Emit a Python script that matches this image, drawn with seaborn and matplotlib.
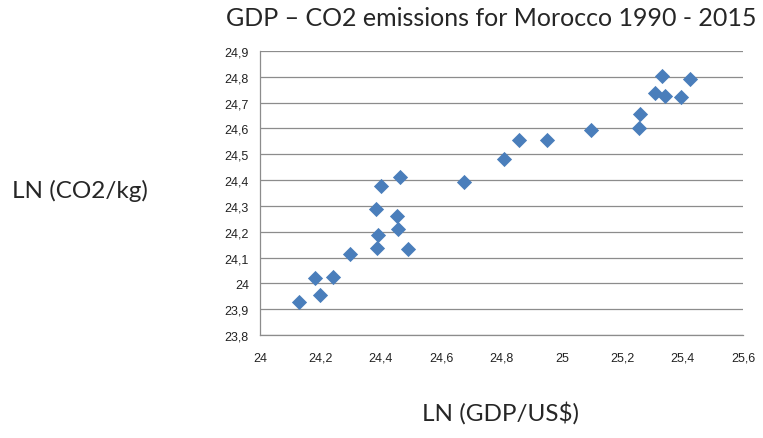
import numpy as np
import matplotlib
matplotlib.use("Agg")
import matplotlib.pyplot as plt
import pandas as pd
import seaborn as sns
from matplotlib.ticker import FuncFormatter

# values
ln_gdp = [24.129, 24.181, 24.200, 24.243, 24.298, 24.383, 24.391, 24.387,
          24.400, 24.465, 24.454, 24.458, 24.489, 24.677, 24.809, 24.858,
          24.950, 25.096, 25.254, 25.259, 25.309, 25.332, 25.342, 25.395,
          25.423]
ln_co2 = [23.927, 24.020, 23.955, 24.024, 24.114, 24.288, 24.188, 24.137,
          24.376, 24.412, 24.259, 24.211, 24.132, 24.394, 24.482, 24.556,
          24.556, 24.593, 24.602, 24.657, 24.739, 24.803, 24.725, 24.720,
          24.790]
x_ticks = [24, 24.2, 24.4, 24.6, 24.8, 25, 25.2, 25.4, 25.6]
y_ticks = [23.8, 23.9, 24, 24.1, 24.2, 24.3, 24.4, 24.5, 24.6, 24.7, 24.8, 24.9]

df = pd.DataFrame({"gdp": ln_gdp, "co2": ln_co2})

sns.set_style("white")
plt.rcParams['font.family'] = ['Liberation Sans', 'DejaVu Sans']

fig = plt.figure(figsize=(7.63, 4.39), dpi=100)
ax = fig.add_axes([260 / 763, 1 - 336 / 439, 483 / 763, 284 / 439])

sns.scatterplot(data=df, x="gdp", y="co2", marker="D", s=60,
                color="#4A7EBB", edgecolor="#4A7EBB", linewidth=0, ax=ax)

ax.set_xlim(24, 25.6)
ax.set_ylim(23.8, 24.9)
ax.set_xticks(x_ticks)
ax.set_yticks(y_ticks)
fmt = FuncFormatter(lambda v, p: ("%g" % round(v, 1)).replace(".", ","))
ax.xaxis.set_major_formatter(fmt)
ax.yaxis.set_major_formatter(fmt)
ax.tick_params(axis="both", labelsize=9, colors="#222222", length=4,
               width=0.8, direction="out")
ax.tick_params(axis="x", color="#888888", pad=8)
ax.tick_params(axis="y", color="#888888", pad=4)

ax.yaxis.grid(True, color="#8c8c8c", linewidth=0.9)
ax.set_axisbelow(True)
for side in ["top", "right"]:
    ax.spines[side].set_visible(False)
for side in ["left", "bottom"]:
    ax.spines[side].set_color("#8c8c8c")
    ax.spines[side].set_linewidth(0.9)

ax.set_xlabel("")
ax.set_ylabel("")
fig.text(491 / 763, 1 - 18 / 439, "GDP \u2013 CO2 emissions for Morocco 1990 - 2015",
         ha="center", va="center", fontsize=18, family=["Lato", "DejaVu Sans"])
fig.text(80 / 763, 1 - 191 / 439, "LN (CO2/kg)", ha="center", va="center",
         fontsize=17.5, family=["Lato", "DejaVu Sans"])
fig.text(501 / 763, 1 - 413 / 439, "LN (GDP/US$)", ha="center", va="center",
         fontsize=17.5, family=["Lato", "DejaVu Sans"])

fig.savefig("out.png", dpi=100)
